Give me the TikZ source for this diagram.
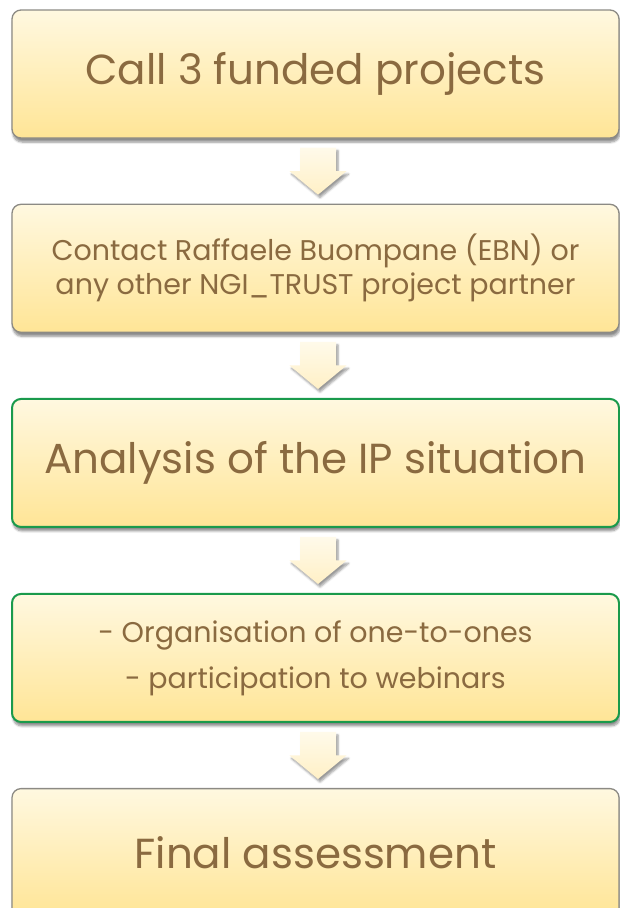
\documentclass[tikz,border=0pt]{standalone}
\usepackage{fontspec}
\setmainfont{Poppins}
\usepackage{tikz}
\usetikzlibrary{positioning}
\usetikzlibrary{calc}
\usetikzlibrary{shadows.blur}

\definecolor{boxtop}{HTML}{FFF8E0}
\definecolor{boxbottom}{HTML}{FFE596}
\definecolor{boxline}{HTML}{8C8A84}
\definecolor{stepgreen}{HTML}{1A9A4C}
\definecolor{stepbrown}{HTML}{8A6A40}
\definecolor{arrowtop}{HTML}{FFFAEA}
\definecolor{arrowbottom}{HTML}{FFF0C6}

\begin{document}
\begin{tikzpicture}[
    x=1pt,y=1pt,
    node distance=65pt,
    stepbox/.style={rectangle,rounded corners=9pt,draw=boxline,line width=1.3pt,
        top color=boxtop,bottom color=boxbottom,
        minimum width=607pt,minimum height=128pt,align=center,text=stepbrown,
        blur shadow={shadow xshift=1pt,shadow yshift=-4pt,shadow blur steps=6,shadow opacity=45}},
    greenbox/.style={stepbox,draw=stepgreen,line width=2pt},
    bigtext/.style={font=\fontsize{42}{50}\selectfont},
    smalltext/.style={font=\fontsize{28.5}{34}\selectfont},
    downarrow/.style={top color=arrowtop,bottom color=arrowbottom,
        blur shadow={shadow xshift=2pt,shadow yshift=-3pt,shadow blur steps=5,shadow opacity=40}}
    ]

    \useasboundingbox (0,0) rectangle (620,-908);

    \node[stepbox,bigtext] (call) at (315.5,-74) {Call 3 funded projects};
    \node[stepbox,smalltext,below=of call] (contact)
        {Contact Raffaele Buompane (EBN) or\\any other NGI\_TRUST project partner};
    \node[greenbox,bigtext,below=of contact] (analysis) {Analysis of the IP situation};
    \node[greenbox,below=of analysis,font=\fontsize{28.5}{46}\selectfont] (support)
        {- Organisation of one-to-ones\\- participation to webinars};
    \node[stepbox,bigtext,below=of support] (final) {Final assessment};

    % block arrows between the steps
    \foreach \a/\b in {call/contact,contact/analysis,analysis/support,support/final} {
        \coordinate (m) at ($(\a.south)!0.5!(\b.north)+(2.5,0)$);
        \path[downarrow] ([shift={(-18,23.5)}]m) -- ([shift={(18,23.5)}]m)
            -- ([shift={(18,0)}]m) -- ([shift={(28.5,0)}]m) -- ([shift={(0,-23.5)}]m)
            -- ([shift={(-28.5,0)}]m) -- ([shift={(-18,0)}]m) -- cycle;
    }

\end{tikzpicture}
\end{document}
